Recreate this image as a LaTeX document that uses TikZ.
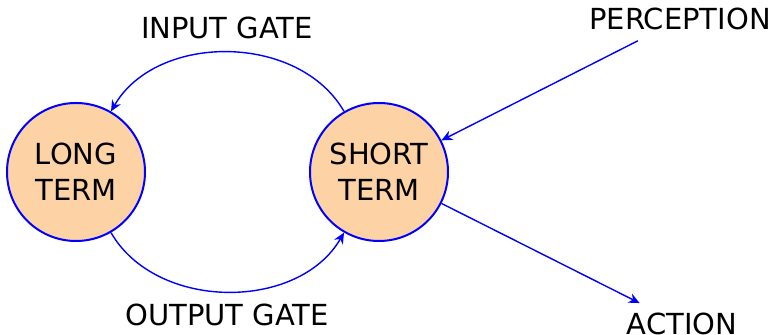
\documentclass[tikz,border=0pt]{standalone}
\usepackage{fontspec}
\setmainfont{DejaVu Sans}
\usetikzlibrary{arrows.meta}
\definecolor{peach}{RGB}{253,211,165}
\begin{document}
\begin{tikzpicture}[x=0.5pt,y=-0.5pt,
  every node/.style={font=\fontsize{14.5pt}{18pt}\selectfont},
  memory/.style={circle,draw=blue,fill=peach,line width=1pt,minimum size=69pt,inner sep=0pt,align=center},
  label text/.style={inner sep=5pt,anchor=base},
  conn/.style={draw=blue,line width=0.7pt,-{Stealth[length=5.5pt,width=5pt]}}]
\useasboundingbox (0,0) rectangle (771,335);
\node[memory] (long) at (76,172) {LONG\\TERM};
\node[memory] (short) at (379,172) {SHORT\\TERM};
\node[label text] (perc) at (680,30) {PERCEPTION};
\node[label text] (act) at (682,335) {ACTION};
\node[label text] (ig) at (227,39) {INPUT GATE};
\node[label text] (og) at (227,326) {OUTPUT GATE};
\draw[conn] (short) to[bend right=60] (long);
\draw[conn] (long) to[bend right=60] (short);
\draw[conn] (perc) -- (short);
\draw[conn] (short) -- (act);
\end{tikzpicture}
\end{document}
